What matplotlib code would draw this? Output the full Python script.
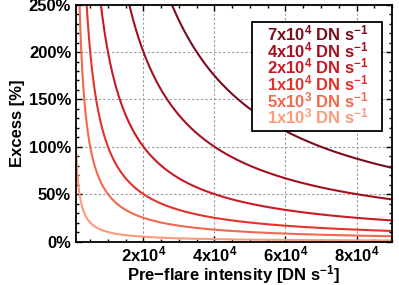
import numpy as np
import matplotlib
matplotlib.use("Agg")
import matplotlib.pyplot as plt
from matplotlib.patches import Rectangle
from matplotlib.ticker import MultipleLocator, FuncFormatter

plt.rcParams['font.family'] = 'Liberation Sans'
plt.rcParams['font.weight'] = 'bold'
plt.rcParams['mathtext.fontset'] = 'custom'
plt.rcParams['mathtext.rm'] = 'Liberation Sans:bold'
plt.rcParams['mathtext.it'] = 'Liberation Sans:bold'
plt.rcParams['mathtext.bf'] = 'Liberation Sans:bold'
plt.rcParams['mathtext.default'] = 'rm'

# flare amplitudes [DN/s] and their label pieces
amplitudes = [7e4, 4e4, 2e4, 1e4, 5e3, 1e3]
mantissas = [7, 4, 2, 1, 5, 1]
exponents = [4, 4, 4, 4, 3, 3]
colors = ['#7a0c1e', '#a3101f', '#c81b26', '#e2322c', '#f3694f', '#fb9b7c']

# pre-flare intensity range [DN/s]
intensity = np.linspace(1000, 90000, 2000)

fig = plt.figure(figsize=(3.99, 2.85), dpi=100)
ax = fig.add_axes([0.1905, 0.1526, 0.792, 0.831])

for amp, m, e, c in zip(amplitudes, mantissas, exponents, colors):
    excess = 100 * amp / intensity
    ax.plot(intensity, excess, color=c, lw=1.5)

ax.set_xlim(1000, 90000)
ax.set_ylim(0, 250)

ax.xaxis.set_major_locator(MultipleLocator(20000))
ax.xaxis.set_minor_locator(MultipleLocator(5000))
ax.yaxis.set_major_locator(MultipleLocator(50))
ax.yaxis.set_minor_locator(MultipleLocator(10))

def xfmt(v, pos):
    if v == 0:
        return ''
    k = int(np.floor(np.log10(v)))
    return '%dx10$^{%d}$' % (round(v / 10**k), k)

ax.xaxis.set_major_formatter(FuncFormatter(xfmt))
ax.yaxis.set_major_formatter(FuncFormatter(lambda v, p: '%d%%' % v))

ax.tick_params(which='both', direction='in', top=True, right=True,
               labelsize=12, width=1.0)
ax.tick_params(which='major', length=4.5)
ax.tick_params(axis='x', which='major', pad=2)
ax.tick_params(which='minor', length=2.5)

ax.grid(True, which='major', color='#999999', lw=0.8, ls=(0, (2, 2)))
for s in ax.spines.values():
    s.set_linewidth(1.3)

ax.set_xlabel('Pre\u2212flare intensity [DN s$^{-1}$]', fontsize=12,
              fontweight='bold')
ax.xaxis.set_label_coords(0.5, -0.138)
ax.xaxis.label.set_va('center')
ax.set_ylabel('Excess [%]', fontsize=12, fontweight='bold', labelpad=3)

# legend box with coloured labels
ax.add_patch(Rectangle((0.556, 0.467), 0.411, 0.461, transform=ax.transAxes,
                       facecolor='white', edgecolor='black', lw=1.3, zorder=5))
for i, (m, e, c) in enumerate(zip(mantissas, exponents, colors)):
    ax.text(0.603, 0.878 - i * 0.0701, '%dx10$^{%d}$ DN s$^{-1}$' % (m, e),
            transform=ax.transAxes, color=c, fontsize=12, fontweight='bold',
            ha='left', va='center', zorder=6)

fig.savefig('out.png', dpi=100)
